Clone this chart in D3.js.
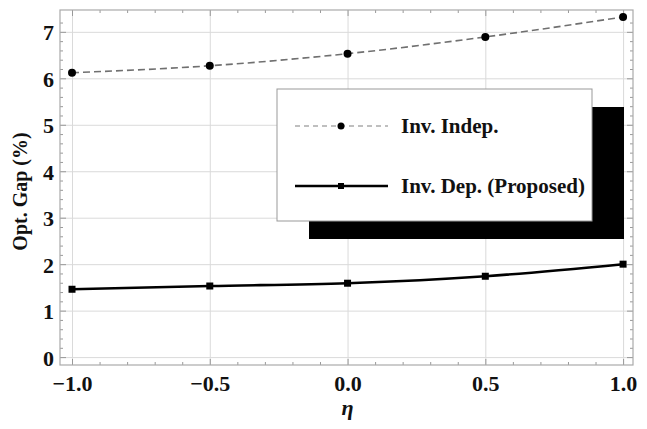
<!DOCTYPE html>
<html lang="en">
<head>
    <meta charset="UTF-8">
    <title>Opt. Gap vs eta</title>
    <script src="https://d3js.org/d3.v7.min.js"></script>
    <style>
        body { margin: 0; background: #fff; }
        svg text { font-family: "Liberation Serif", "Times New Roman", serif; font-weight: bold; fill: #111; }
        .tick-label { font-size: 22px; }
    </style>
</head>
<body>
    <div id="chart"></div>
    <script>
        // Data
        const etaValues = [-1.0, -0.5, 0.0, 0.5, 1.0];
        const invIndep = [6.12, 6.27, 6.53, 6.89, 7.32];
        const invDep = [1.46, 1.53, 1.59, 1.74, 2.0];
        const seriesNames = ["Inv. Indep.", "Inv. Dep. (Proposed)"];
        const xTicks = [-1.0, -0.5, 0.0, 0.5, 1.0];
        const yTicks = [0, 1, 2, 3, 4, 5, 6, 7];

        const W = 647, H = 429;
        const margin = { top: 10, right: 14, bottom: 64, left: 60 };
        const width = W - margin.left - margin.right;
        const height = H - margin.top - margin.bottom;

        const svg = d3.select("#chart").append("svg")
            .attr("width", W)
            .attr("height", H);

        const g = svg.append("g")
            .attr("transform", `translate(${margin.left},${margin.top})`);

        const x = d3.scaleLinear().domain([-1.0436, 1.036]).range([0, width]);
        const y = d3.scaleLinear().domain([-0.17, 7.47]).range([height, 0]);

        // Gridlines
        g.append("g")
            .attr("transform", `translate(0,${height})`)
            .call(d3.axisBottom(x).tickValues(xTicks).tickSize(-height).tickFormat(""))
            .call(a => {
                a.select(".domain").remove();
                a.selectAll(".tick line").attr("stroke", "#dadada").attr("stroke-width", 1);
            });
        g.append("g")
            .call(d3.axisLeft(y).tickValues(yTicks).tickSize(-width).tickFormat(""))
            .call(a => {
                a.select(".domain").remove();
                a.selectAll(".tick line").attr("stroke", "#dadada").attr("stroke-width", 1);
            });

        // Minor/major tick marks on all four sides (inward)
        const xMinor = d3.range(-10, 11).map(i => i / 10);
        const yMinor = d3.range(0, 37).map(i => i / 5).filter(v => v <= 7.4);
        const isMajorX = v => Math.abs(v * 2 - Math.round(v * 2)) < 1e-6;
        const isMajorY = v => Math.abs(v - Math.round(v)) < 1e-6;

        const tickStyle = a => {
            a.select(".domain").remove();
            a.selectAll(".tick line").attr("stroke", "#999").attr("stroke-width", 1);
        };
        g.append("g")
            .attr("transform", `translate(0,${height})`)
            .call(d3.axisBottom(x).tickValues(xMinor).tickSize(-3).tickFormat(""))
            .call(tickStyle)
            .call(a => a.selectAll(".tick line").attr("y2", d => isMajorX(d) ? -6 : -3));
        g.append("g")
            .call(d3.axisTop(x).tickValues(xMinor).tickSize(-3).tickFormat(""))
            .call(tickStyle)
            .call(a => a.selectAll(".tick line").attr("y2", d => isMajorX(d) ? 6 : 3));
        g.append("g")
            .call(d3.axisLeft(y).tickValues(yMinor).tickSize(-3).tickFormat(""))
            .call(tickStyle)
            .call(a => a.selectAll(".tick line").attr("x2", d => isMajorY(d) ? 6 : 3));
        g.append("g")
            .attr("transform", `translate(${width},0)`)
            .call(d3.axisRight(y).tickValues(yMinor).tickSize(-3).tickFormat(""))
            .call(tickStyle)
            .call(a => a.selectAll(".tick line").attr("x2", d => isMajorY(d) ? -6 : -3));

        // Frame
        g.append("rect")
            .attr("width", width)
            .attr("height", height)
            .attr("fill", "none")
            .attr("stroke", "#aaa")
            .attr("stroke-width", 1.2);

        // Tick labels
        g.append("g")
            .attr("transform", `translate(0,${height})`)
            .call(d3.axisBottom(x).tickValues(xTicks).tickSize(0).tickPadding(7).tickFormat(d3.format(".1f")))
            .call(a => {
                a.select(".domain").remove();
                a.selectAll("text").attr("class", "tick-label").attr("dy", "0.85em");
            });
        g.append("g")
            .call(d3.axisLeft(y).tickValues(yTicks).tickSize(0).tickPadding(6).tickFormat(d3.format("d")))
            .call(a => {
                a.select(".domain").remove();
                a.selectAll("text").attr("class", "tick-label").attr("dy", "0.36em");
            });

        // Axis titles
        svg.append("text")
            .attr("transform", `translate(20,${margin.top + height / 2 + 4}) rotate(-90)`)
            .attr("text-anchor", "middle")
            .attr("dy", "0.35em")
            .style("font-size", "20px")
            .text("Opt. Gap (%)");
        svg.append("text")
            .attr("x", margin.left + x(0))
            .attr("y", 415)
            .attr("text-anchor", "middle")
            .style("font-size", "22px")
            .style("font-style", "italic")
            .text("η");

        // Lines
        const lineGen = d3.line()
            .x((d, i) => x(etaValues[i]))
            .y(d => y(d))
            .curve(d3.curveMonotoneX);

        g.append("path")
            .datum(invIndep)
            .attr("d", lineGen)
            .attr("fill", "none")
            .attr("stroke", "#707070")
            .attr("stroke-width", 1.6)
            .attr("stroke-dasharray", "7,4");
        g.selectAll(".pt-indep")
            .data(invIndep)
            .enter().append("circle")
            .attr("class", "pt-indep")
            .attr("cx", (d, i) => x(etaValues[i]))
            .attr("cy", d => y(d))
            .attr("r", 4)
            .attr("fill", "#000");

        g.append("path")
            .datum(invDep)
            .attr("d", lineGen)
            .attr("fill", "none")
            .attr("stroke", "#000")
            .attr("stroke-width", 2.6);
        g.selectAll(".pt-dep")
            .data(invDep)
            .enter().append("rect")
            .attr("class", "pt-dep")
            .attr("x", (d, i) => x(etaValues[i]) - 3.5)
            .attr("y", d => y(d) - 3.5)
            .attr("width", 7)
            .attr("height", 7)
            .attr("fill", "#000");

        // Legend with drop shadow
        const lx = 277, ly = 89, lw = 315, lh = 132;
        svg.append("rect")
            .attr("x", lx + 32).attr("y", ly + 18)
            .attr("width", lw).attr("height", lh)
            .attr("fill", "#000");
        svg.append("rect")
            .attr("x", lx).attr("y", ly)
            .attr("width", lw).attr("height", lh)
            .attr("fill", "#fff")
            .attr("stroke", "#999")
            .attr("stroke-width", 1);

        const rows = [
            { y: ly + 37, dash: "5,4", color: "#808080", sw: 1.2, marker: "circle" },
            { y: ly + 97, dash: null, color: "#000", sw: 2.6, marker: "square" }
        ];
        rows.forEach((r, i) => {
            svg.append("line")
                .attr("x1", lx + 18).attr("x2", lx + 111)
                .attr("y1", r.y).attr("y2", r.y)
                .attr("stroke", r.color)
                .attr("stroke-width", r.sw)
                .attr("stroke-dasharray", r.dash);
            if (r.marker === "circle") {
                svg.append("circle")
                    .attr("cx", lx + 64).attr("cy", r.y).attr("r", 3.5).attr("fill", "#000");
            } else {
                svg.append("rect")
                    .attr("x", lx + 61).attr("y", r.y - 3)
                    .attr("width", 6).attr("height", 6).attr("fill", "#000");
            }
            svg.append("text")
                .attr("x", lx + 124)
                .attr("y", r.y)
                .attr("dy", "0.33em")
                .style("font-size", "21px")
                .text(seriesNames[i]);
        });
    </script>
</body>
</html>
